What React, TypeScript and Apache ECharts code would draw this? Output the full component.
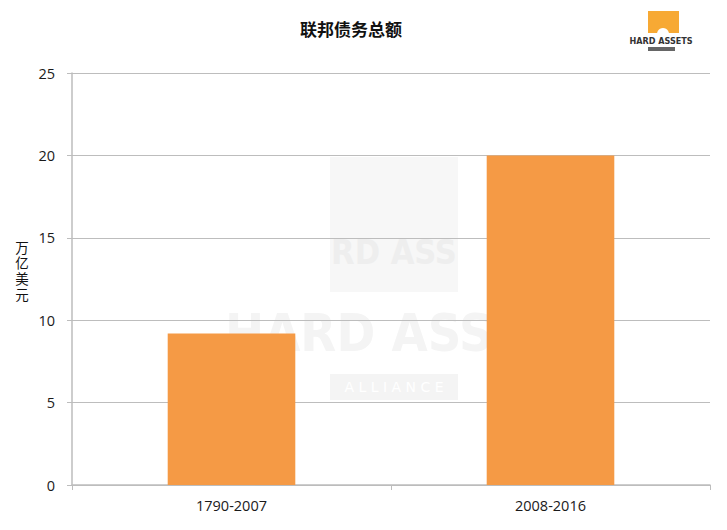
import React, { useEffect, useRef } from "react";
import * as echarts from "echarts";

const categories = ["1790-2007", "2008-2016"];
const debtValues = [9.2, 20.0];
const yTicks = { min: 0, max: 25, interval: 5 };
const titleText = "联邦债务总额";
const yAxisChars = ["万", "亿", "美", "元"];

export default function App() {
  const ref = useRef<HTMLDivElement>(null);
  useEffect(() => {
    if (!ref.current) return;
    const chart = echarts.init(ref.current, undefined, { renderer: "svg" });
    const font = "'Noto Sans CJK SC', 'Open Sans', sans-serif";
    const labelChars = yAxisChars.map((ch, i) => ({
      type: "text",
      x: 22,
      y: 248 + i * 15.7,
      style: {
        text: ch,
        fontSize: 13.5,
        fill: "#111",
        align: "center",
        verticalAlign: "middle",
        fontFamily: "'Liberation Sans', 'Noto Sans CJK SC', sans-serif",
      },
    }));
    chart.setOption({
      animation: false,
      backgroundColor: "#ffffff",
      title: {
        text: titleText,
        left: 346,
        textAlign: "center",
        top: 15,
        textStyle: { fontSize: 17, fontWeight: "bold", color: "#111", fontFamily: font },
      },
      grid: { left: 72, right: 17, top: 73, bottom: 45, containLabel: false },
      xAxis: {
        type: "category",
        data: categories,
        axisLine: { lineStyle: { color: "#bdbdbd", width: 1.5 } },
        axisTick: { show: true, alignWithLabel: false, length: 5, lineStyle: { color: "#bdbdbd" } },
        axisLabel: { color: "#1a1a1a", fontSize: 14.5, margin: 13, fontFamily: "'Open Sans', sans-serif" },
      },
      yAxis: {
        type: "value",
        min: yTicks.min,
        max: yTicks.max,
        interval: yTicks.interval,
        axisLine: { show: true, lineStyle: { color: "#bdbdbd", width: 1.5 } },
        axisTick: { show: true, length: 5, lineStyle: { color: "#bdbdbd" } },
        splitLine: { lineStyle: { color: "#bdbdbd", width: 1.2 } },
        axisLabel: { color: "#1a1a1a", fontSize: 14.5, margin: 17, fontFamily: "'Open Sans', sans-serif" },
      },
      series: [
        {
          type: "bar",
          data: debtValues,
          barWidth: "40%",
          itemStyle: { color: "#f59a45" },
          z: 3,
        },
      ],
      graphic: [
        ...labelChars,
        // watermark
        {
          type: "rect",
          z: -10,
          shape: { x: 330, y: 157, width: 128, height: 135 },
          style: { fill: "#f7f7f7" },
        },
        {
          type: "text",
          z: -9,
          x: 394,
          y: 252,
          style: {
            text: "RD ASS",
            fontSize: 34,
            fontWeight: "bold",
            fill: "#eeeeee",
            align: "center",
            verticalAlign: "middle",
            fontFamily: "'DejaVu Sans Condensed', sans-serif",
          },
        },
        {
          type: "text",
          z: -9,
          x: 225,
          y: 333,
          style: {
            text: "HARD ASSETS",
            fontSize: 52,
            fontWeight: "bold",
            fill: "#f4f4f4",
            align: "left",
            verticalAlign: "middle",
            fontFamily: "'DejaVu Sans Condensed', sans-serif",
          },
        },
        {
          type: "rect",
          z: -10,
          shape: { x: 330, y: 374, width: 128, height: 26 },
          style: { fill: "#f4f4f4" },
        },
        {
          type: "text",
          z: -9,
          x: 394,
          y: 387,
          style: {
            text: "A L L I A N C E",
            fontSize: 14,
            fill: "#ffffff",
            align: "center",
            verticalAlign: "middle",
            fontFamily: "'DejaVu Sans', sans-serif",
          },
        },
        // top-right logo
        {
          type: "rect",
          shape: { x: 648, y: 11, width: 31, height: 22 },
          style: { fill: "#f7a934" },
        },
        {
          type: "circle",
          shape: { cx: 663, cy: 34, r: 6 },
          style: { fill: "#ffffff" },
        },
        {
          type: "text",
          x: 661,
          y: 41,
          style: {
            text: "HARD ASSETS",
            fontSize: 9,
            fontWeight: "bold",
            fill: "#333333",
            align: "center",
            verticalAlign: "middle",
            fontFamily: "'DejaVu Sans Condensed', sans-serif",
          },
        },
        {
          type: "rect",
          shape: { x: 648, y: 47, width: 27, height: 4 },
          style: { fill: "#666666" },
        },
      ],
    });
    return () => chart.dispose();
  }, []);
  return <div ref={ref} style={{ width: 727, height: 530, margin: -8 }} />;
}
